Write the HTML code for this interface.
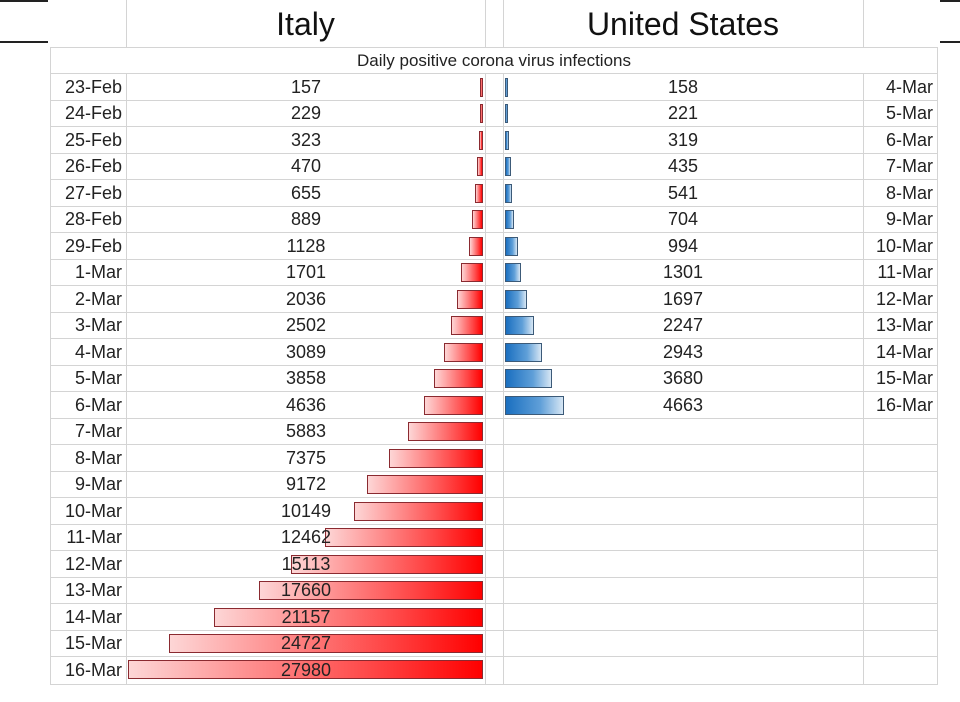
<!DOCTYPE html>
<html><head><meta charset="utf-8"><style>
body{margin:0;width:960px;height:702px;background:#fff;position:relative;overflow:hidden;font-family:"Liberation Sans",sans-serif;color:#222}
div{position:absolute}
.h{height:1px;background:#d4d4d4}
.v{width:1px;background:#d4d4d4}
.d{left:50px;width:72px;text-align:right;font-size:18px;line-height:26px}
.u{left:863px;width:70px;text-align:right;font-size:18px;line-height:26px}
.iv{left:206px;width:200px;text-align:center;font-size:18px;line-height:26px;z-index:2}
.uv{left:583px;width:200px;text-align:center;font-size:18px;line-height:26px}
.rb{height:19px;box-sizing:border-box;border:1px solid #8a2a30;background:linear-gradient(to right,#fdd6d6,#f44 70%,#f00);right:477px}
.bb{height:19px;box-sizing:border-box;border:1px solid #3c5a78;background:linear-gradient(to right,#1a6fc0,#5f9fd8 60%,#d6e6f4);left:505px}
</style></head><body>
<div style="left:0;top:0;width:48px;height:2px;background:#222"></div>
<div style="left:0;top:41px;width:48px;height:2px;background:#222"></div>
<div style="left:940px;top:0;width:20px;height:2px;background:#222"></div>
<div style="left:940px;top:41px;width:20px;height:2px;background:#222"></div>
<div class="v" style="left:126px;top:0;height:47px"></div>
<div class="v" style="left:485px;top:0;height:47px"></div>
<div class="v" style="left:503px;top:0;height:47px"></div>
<div class="v" style="left:863px;top:0;height:47px"></div>
<div class="v" style="left:50px;top:47px;height:638px"></div>
<div class="v" style="left:937px;top:47px;height:638px"></div>
<div class="v" style="left:126px;top:73px;height:612px"></div>
<div class="v" style="left:485px;top:73px;height:612px"></div>
<div class="v" style="left:503px;top:73px;height:612px"></div>
<div class="v" style="left:863px;top:73px;height:612px"></div>
<div class="h" style="left:50px;top:47px;width:888px"></div>
<div style="left:126px;top:4px;width:359px;text-align:center;font-size:32px;line-height:40px;color:#111">Italy</div>
<div style="left:503px;top:4px;width:360px;text-align:center;font-size:32px;line-height:40px;color:#111">United States</div>
<div style="left:50px;top:48px;width:888px;text-align:center;font-size:17px;line-height:25px">Daily positive corona virus infections</div>
<div class="h" style="left:50px;top:73px;width:888px"></div>
<div class="h" style="left:50px;top:100px;width:888px"></div>
<div class="h" style="left:50px;top:126px;width:888px"></div>
<div class="h" style="left:50px;top:153px;width:888px"></div>
<div class="h" style="left:50px;top:179px;width:888px"></div>
<div class="h" style="left:50px;top:206px;width:888px"></div>
<div class="h" style="left:50px;top:232px;width:888px"></div>
<div class="h" style="left:50px;top:259px;width:888px"></div>
<div class="h" style="left:50px;top:285px;width:888px"></div>
<div class="h" style="left:50px;top:312px;width:888px"></div>
<div class="h" style="left:50px;top:338px;width:888px"></div>
<div class="h" style="left:50px;top:365px;width:888px"></div>
<div class="h" style="left:50px;top:391px;width:888px"></div>
<div class="h" style="left:50px;top:418px;width:888px"></div>
<div class="h" style="left:50px;top:444px;width:888px"></div>
<div class="h" style="left:50px;top:471px;width:888px"></div>
<div class="h" style="left:50px;top:497px;width:888px"></div>
<div class="h" style="left:50px;top:524px;width:888px"></div>
<div class="h" style="left:50px;top:550px;width:888px"></div>
<div class="h" style="left:50px;top:577px;width:888px"></div>
<div class="h" style="left:50px;top:603px;width:888px"></div>
<div class="h" style="left:50px;top:630px;width:888px"></div>
<div class="h" style="left:50px;top:656px;width:888px"></div>
<div class="h" style="left:50px;top:684px;width:888px"></div>

<div class="d" style="top:74px">23-Feb</div><div class="iv" style="top:74px">157</div><div class="rb" style="top:78px;width:3px"></div><div class="bb" style="top:78px;width:3px"></div><div class="uv" style="top:74px">158</div><div class="u" style="top:74px">4-Mar</div>
<div class="d" style="top:100px">24-Feb</div><div class="iv" style="top:100px">229</div><div class="rb" style="top:104px;width:3px"></div><div class="bb" style="top:104px;width:3px"></div><div class="uv" style="top:100px">221</div><div class="u" style="top:100px">5-Mar</div>
<div class="d" style="top:127px">25-Feb</div><div class="iv" style="top:127px">323</div><div class="rb" style="top:131px;width:4px"></div><div class="bb" style="top:131px;width:4px"></div><div class="uv" style="top:127px">319</div><div class="u" style="top:127px">6-Mar</div>
<div class="d" style="top:153px">26-Feb</div><div class="iv" style="top:153px">470</div><div class="rb" style="top:157px;width:6px"></div><div class="bb" style="top:157px;width:6px"></div><div class="uv" style="top:153px">435</div><div class="u" style="top:153px">7-Mar</div>
<div class="d" style="top:180px">27-Feb</div><div class="iv" style="top:180px">655</div><div class="rb" style="top:184px;width:8px"></div><div class="bb" style="top:184px;width:7px"></div><div class="uv" style="top:180px">541</div><div class="u" style="top:180px">8-Mar</div>
<div class="d" style="top:206px">28-Feb</div><div class="iv" style="top:206px">889</div><div class="rb" style="top:210px;width:11px"></div><div class="bb" style="top:210px;width:9px"></div><div class="uv" style="top:206px">704</div><div class="u" style="top:206px">9-Mar</div>
<div class="d" style="top:233px">29-Feb</div><div class="iv" style="top:233px">1128</div><div class="rb" style="top:237px;width:14px"></div><div class="bb" style="top:237px;width:13px"></div><div class="uv" style="top:233px">994</div><div class="u" style="top:233px">10-Mar</div>
<div class="d" style="top:259px">1-Mar</div><div class="iv" style="top:259px">1701</div><div class="rb" style="top:263px;width:22px"></div><div class="bb" style="top:263px;width:16px"></div><div class="uv" style="top:259px">1301</div><div class="u" style="top:259px">11-Mar</div>
<div class="d" style="top:286px">2-Mar</div><div class="iv" style="top:286px">2036</div><div class="rb" style="top:290px;width:26px"></div><div class="bb" style="top:290px;width:22px"></div><div class="uv" style="top:286px">1697</div><div class="u" style="top:286px">12-Mar</div>
<div class="d" style="top:312px">3-Mar</div><div class="iv" style="top:312px">2502</div><div class="rb" style="top:316px;width:32px"></div><div class="bb" style="top:316px;width:29px"></div><div class="uv" style="top:312px">2247</div><div class="u" style="top:312px">13-Mar</div>
<div class="d" style="top:339px">4-Mar</div><div class="iv" style="top:339px">3089</div><div class="rb" style="top:343px;width:39px"></div><div class="bb" style="top:343px;width:37px"></div><div class="uv" style="top:339px">2943</div><div class="u" style="top:339px">14-Mar</div>
<div class="d" style="top:365px">5-Mar</div><div class="iv" style="top:365px">3858</div><div class="rb" style="top:369px;width:49px"></div><div class="bb" style="top:369px;width:47px"></div><div class="uv" style="top:365px">3680</div><div class="u" style="top:365px">15-Mar</div>
<div class="d" style="top:392px">6-Mar</div><div class="iv" style="top:392px">4636</div><div class="rb" style="top:396px;width:59px"></div><div class="bb" style="top:396px;width:59px"></div><div class="uv" style="top:392px">4663</div><div class="u" style="top:392px">16-Mar</div>
<div class="d" style="top:418px">7-Mar</div><div class="iv" style="top:418px">5883</div><div class="rb" style="top:422px;width:75px"></div>
<div class="d" style="top:445px">8-Mar</div><div class="iv" style="top:445px">7375</div><div class="rb" style="top:449px;width:94px"></div>
<div class="d" style="top:471px">9-Mar</div><div class="iv" style="top:471px">9172</div><div class="rb" style="top:475px;width:116px"></div>
<div class="d" style="top:498px">10-Mar</div><div class="iv" style="top:498px">10149</div><div class="rb" style="top:502px;width:129px"></div>
<div class="d" style="top:524px">11-Mar</div><div class="iv" style="top:524px">12462</div><div class="rb" style="top:528px;width:158px"></div>
<div class="d" style="top:551px">12-Mar</div><div class="iv" style="top:551px">15113</div><div class="rb" style="top:555px;width:192px"></div>
<div class="d" style="top:577px">13-Mar</div><div class="iv" style="top:577px">17660</div><div class="rb" style="top:581px;width:224px"></div>
<div class="d" style="top:604px">14-Mar</div><div class="iv" style="top:604px">21157</div><div class="rb" style="top:608px;width:269px"></div>
<div class="d" style="top:630px">15-Mar</div><div class="iv" style="top:630px">24727</div><div class="rb" style="top:634px;width:314px"></div>
<div class="d" style="top:657px">16-Mar</div><div class="iv" style="top:657px">27980</div><div class="rb" style="top:660px;width:355px"></div>
</body></html>
